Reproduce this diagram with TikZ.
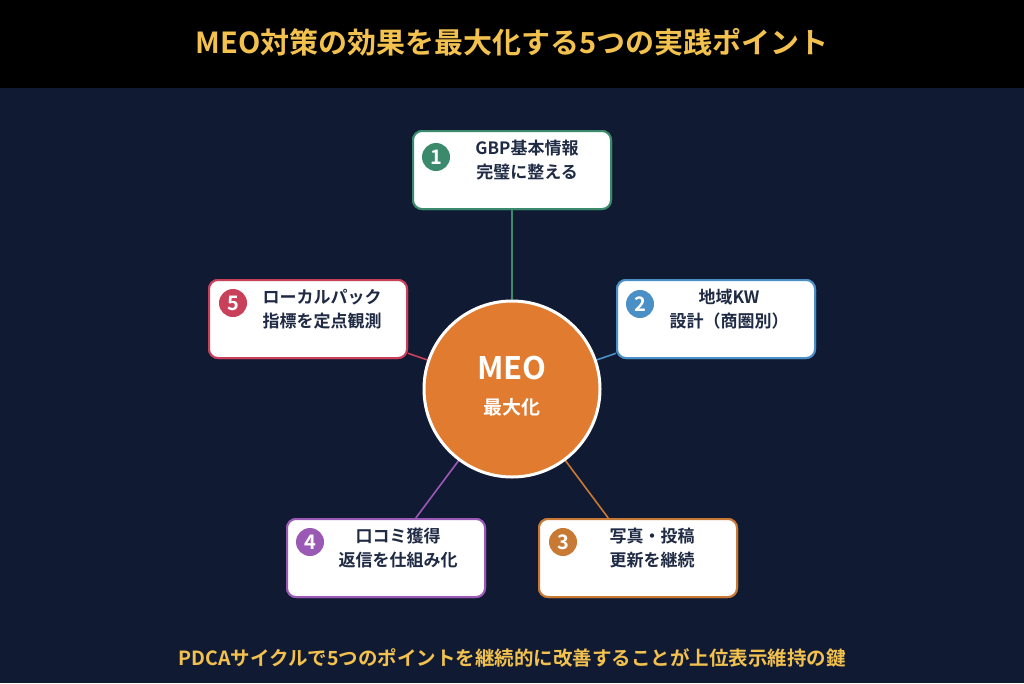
\documentclass[tikz,border=0pt]{standalone}
\usepackage{fontspec}
\setmainfont{Noto Sans CJK JP}
\newfontfamily\jpbold{Noto Sans CJK JP Bold}
\usetikzlibrary{positioning}
\definecolor{navy}{HTML}{111A33}
\definecolor{gold}{HTML}{F2C14E}
\definecolor{ink}{HTML}{1F2A44}
\definecolor{cgreen}{HTML}{3C8A6C}
\definecolor{cblue}{HTML}{4A8FC6}
\definecolor{corange}{HTML}{C87A35}
\definecolor{cpurple}{HTML}{9B59B6}
\definecolor{cred}{HTML}{C8405A}
\definecolor{hub}{HTML}{E07B30}
\tikzset{
  point/.style={rectangle,rounded corners=9pt,draw=#1,line width=2pt,fill=white,
    minimum width=198pt,minimum height=78pt},
  badge/.style={circle,fill=#1,minimum size=28pt,inner sep=0pt,
    text=white,font=\jpbold\fontsize{20}{20}\selectfont},
  label/.style={align=center,text=ink,font=\jpbold\fontsize{17}{24}\selectfont},
  spoke/.style={draw=#1,line width=1.6pt},
}
\begin{document}
\begin{tikzpicture}[x=1pt,y=-1pt]
\fill[navy] (0,0) rectangle (1024,683);
\fill[black] (0,0) rectangle (1024,88);
\node (title) at (512,42) [text=gold,font=\jpbold\fontsize{29}{29}\selectfont] {MEO対策の効果を最大化する5つの実践ポイント};
% hub and boxes
\coordinate (c) at (512,389);
\node (p1) at (512,170) [point=cgreen] {};
\node (p2) at (716,319) [point=cblue] {};
\node (p3) at (638,558) [point=corange] {};
\node (p4) at (386,558) [point=cpurple] {};
\node (p5) at (308,319) [point=cred] {};
\draw[spoke=cgreen] (c) -- (p1);
\draw[spoke=cblue] (c) -- (p2);
\draw[spoke=corange] (c) -- (p3);
\draw[spoke=cpurple] (c) -- (p4);
\draw[spoke=cred] (c) -- (p5);
\foreach \n/\col in {p1/cgreen,p2/cblue,p3/corange,p4/cpurple,p5/cred}
  \node[point=\col] at (\n) {};
\node (hub) at (c) [circle,fill=hub,draw=white,line width=3pt,minimum size=176pt] {};
\node (hubtop) at (512,368) [text=white,font=\jpbold\fontsize{31}{31}\selectfont] {MEO};
\node (hubsub) at (512,407) [text=white,font=\jpbold\fontsize{19}{19}\selectfont] {最大化};
% badges
\node (b1) at (436,157) [badge=cgreen] {1};
\node (b2) at (640,304) [badge=cblue] {2};
\node (b3) at (563,542) [badge=corange] {3};
\node (b4) at (310,542) [badge=cpurple] {4};
\node (b5) at (233,303) [badge=cred] {5};
% texts
\node (t1) at (527,160) [label] {GBP基本情報\\完璧に整える};
\node (t2) at (729,309) [label] {地域KW\\設計（商圏別）};
\node (t3) at (652,548) [label] {写真・投稿\\更新を継続};
\node (t4) at (398,548) [label] {口コミ獲得\\返信を仕組み化};
\node (t5) at (322,309) [label] {ローカルパック\\指標を定点観測};
\node (foot) at (512,658) [text=gold,font=\jpbold\fontsize{19.5}{19.5}\selectfont] {PDCAサイクルで5つのポイントを継続的に改善することが上位表示維持の鍵};
\end{tikzpicture}
\end{document}
